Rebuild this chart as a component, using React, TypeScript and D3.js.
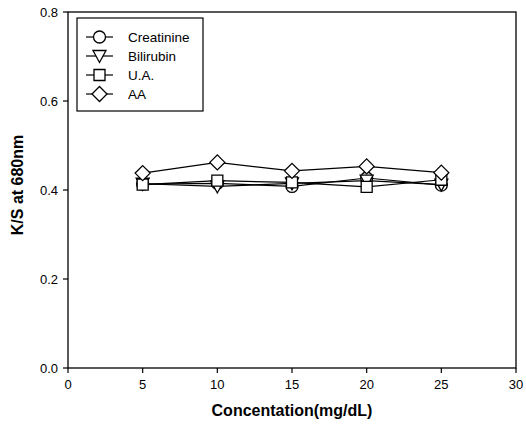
import React from 'react';
import * as d3 from 'd3';

const concentrations = [5, 10, 15, 20, 25];
const creatinine = [0.413, 0.415, 0.408, 0.427, 0.411];
const bilirubin = [0.414, 0.408, 0.415, 0.421, 0.412];
const uricAcid = [0.412, 0.421, 0.417, 0.407, 0.423];
const ascorbicAcid = [0.438, 0.462, 0.443, 0.453, 0.439];

const seriesNames = ['Creatinine', 'Bilirubin', 'U.A.', 'AA'];
const seriesSymbols = ['circle', 'triangle', 'square', 'diamond'];
const xTicks = [0, 5, 10, 15, 20, 25, 30];
const yTicks = [0, 0.2, 0.4, 0.6, 0.8];

const width = 526;
const height = 429;
const left = 68;
const right = 516;
const top = 12;
const bottom = 368;

const font = 'Liberation Sans, Arial, sans-serif';

const symbolPath = (kind: string, cx: number, cy: number) => {
  if (kind === 'circle') {
    const r = 6;
    return `M${cx - r},${cy}a${r},${r} 0 1,0 ${2 * r},0a${r},${r} 0 1,0 ${-2 * r},0Z`;
  }
  if (kind === 'triangle') {
    return `M${cx - 6.5},${cy - 5.5}L${cx + 6.5},${cy - 5.5}L${cx},${cy + 6.5}Z`;
  }
  if (kind === 'square') {
    return `M${cx - 5.5},${cy - 5.5}h11v11h-11Z`;
  }
  return `M${cx},${cy - 7.5}L${cx + 7.5},${cy}L${cx},${cy + 7.5}L${cx - 7.5},${cy}Z`;
};

export default function App() {
  const x = d3.scaleLinear().domain([0, 30]).range([left, right]);
  const y = d3.scaleLinear().domain([0, 0.8]).range([bottom, top]);
  const allSeries = [creatinine, bilirubin, uricAcid, ascorbicAcid];
  const line = d3
    .line<number>()
    .x((_, i) => x(concentrations[i]))
    .y((d) => y(d));

  return (
    <svg width={width} height={height} style={{ position: 'absolute', left: 0, top: 0, background: '#fff' }}>
      <rect x={left} y={top} width={right - left} height={bottom - top} fill="none" stroke="#000" strokeWidth={1.3} />
      {xTicks.map((t) => (
        <g key={'x' + t}>
          <line x1={x(t)} x2={x(t)} y1={bottom} y2={bottom + 5} stroke="#000" strokeWidth={1.2} />
          <text x={x(t)} y={bottom + 21} textAnchor="middle" fontFamily={font} fontSize={13}>
            {t}
          </text>
        </g>
      ))}
      {yTicks.map((t) => (
        <g key={'y' + t}>
          <line x1={left - 5} x2={left} y1={y(t)} y2={y(t)} stroke="#000" strokeWidth={1.2} />
          <text x={left - 10} y={y(t) + 4.5} textAnchor="end" fontFamily={font} fontSize={13}>
            {t.toFixed(1)}
          </text>
        </g>
      ))}
      <text x={(left + right) / 2} y={416} textAnchor="middle" fontFamily={font} fontSize={16} fontWeight="bold">
        Concentation(mg/dL)
      </text>
      <text
        transform={`translate(23,185) rotate(-90)`}
        textAnchor="middle"
        fontFamily={font}
        fontSize={16}
        fontWeight="bold"
      >
        K/S at 680nm
      </text>
      {allSeries.map((s, k) => (
        <path key={'l' + k} d={line(s) || ''} fill="none" stroke="#000" strokeWidth={1.2} />
      ))}
      {allSeries.map((s, k) =>
        s.map((v, i) => (
          <path
            key={'m' + k + '-' + i}
            d={symbolPath(seriesSymbols[k], x(concentrations[i]), y(v))}
            fill="#fff"
            stroke="#000"
            strokeWidth={1.3}
          />
        ))
      )}
      <rect x={77} y={18} width={126} height={93} fill="#fff" stroke="#000" strokeWidth={1.2} />
      {seriesNames.map((name, k) => {
        const ly = 37 + k * 19;
        return (
          <g key={'g' + name}>
            <line x1={86} x2={113} y1={ly} y2={ly} stroke="#000" strokeWidth={1.2} />
            <path d={symbolPath(seriesSymbols[k], 99.5, ly)} fill="#fff" stroke="#000" strokeWidth={1.3} />
            <text x={128} y={ly + 4.5} fontFamily={font} fontSize={13.5}>
              {name}
            </text>
          </g>
        );
      })}
    </svg>
  );
}
